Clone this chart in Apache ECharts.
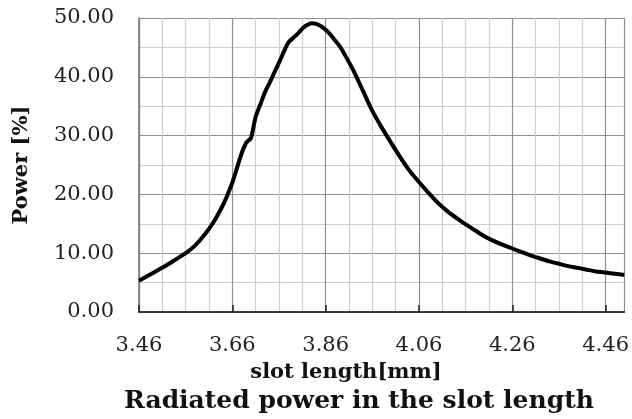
<!DOCTYPE html>
<html>
<head>
<meta charset="utf-8">
<script src="https://cdn.jsdelivr.net/npm/echarts@6/dist/echarts.min.js"></script>
<style>html,body{margin:0;padding:0;background:#fff}#c{width:632px;height:419px}</style>
</head>
<body>
<div id="c"></div>
<script>
var slotLength = [3.46,3.48,3.50,3.52,3.54,3.56,3.58,3.60,3.62,3.64,3.65,3.66,3.67,3.68,3.69,3.70,3.71,3.72,3.73,3.74,3.75,3.76,3.77,3.78,3.79,3.80,3.81,3.82,3.83,3.84,3.85,3.86,3.87,3.88,3.89,3.90,3.92,3.94,3.96,3.98,4.00,4.02,4.04,4.06,4.08,4.10,4.12,4.14,4.16,4.18,4.20,4.22,4.24,4.26,4.28,4.30,4.32,4.34,4.36,4.38,4.40,4.42,4.44,4.46,4.48,4.50];
var power = [5.3,6.2,7.1,8.0,9.0,10.0,11.3,13.1,15.3,18.2,20.0,22.0,24.5,27.0,28.8,29.6,33.2,35.3,37.4,39.0,40.7,42.4,44.2,45.8,46.6,47.3,48.2,48.8,49.1,49.0,48.6,48.0,47.2,46.2,45.2,43.9,41.0,37.6,34.2,31.4,28.8,26.3,24.0,22.1,20.3,18.6,17.2,16.0,14.9,13.9,12.9,12.1,11.4,10.8,10.2,9.6,9.1,8.6,8.2,7.8,7.5,7.2,6.9,6.7,6.5,6.3];
var xStart = 3.46, xEnd = 4.50, xStep = 0.2;
var yTicks = [0, 10, 20, 30, 40, 50];
var xAxisName = 'slot length[mm]';
var yAxisName = 'Power [%]';
var chartTitle = 'Radiated power in the slot length';

var serif = '"DejaVu Serif", "Liberation Serif", serif';
var chart = echarts.init(document.getElementById('c'));
var pts = slotLength.map(function (x, i) { return [+(x - xStart).toFixed(4), power[i]]; });
var span = +(xEnd - xStart).toFixed(4);

chart.setOption({
  animation: false,
  grid: { left: 139, right: 5, top: 18, bottom: 107 },
  xAxis: [{
    type: 'value', min: 0, max: span, interval: xStep,
    axisLine: { show: true, lineStyle: { color: '#222', width: 1.5 } },
    axisTick: { show: true, inside: true, length: 7, lineStyle: { color: '#222', width: 1.5 } },
    axisLabel: {
      margin: 23, color: '#222', fontFamily: serif, fontSize: 21,
      showMaxLabel: false,
      formatter: function (v) { return v > span - 0.01 ? '' : (v + xStart).toFixed(2); }
    },
    splitLine: { show: true, lineStyle: { color: '#8f8f8f', width: 1.2 } },
    minorTick: { show: false, splitNumber: 4 },
    minorSplitLine: { show: true, lineStyle: { color: '#cfcfcf', width: 1.2 } }
  }, {
    type: 'value', position: 'top', min: 0, max: span,
    axisLine: { show: true, lineStyle: { color: '#333', width: 1.5 } },
    axisTick: { show: false }, axisLabel: { show: false }, splitLine: { show: false }
  }],
  yAxis: [{
    type: 'value', min: yTicks[0], max: yTicks[yTicks.length - 1], interval: 10,
    name: yAxisName, nameLocation: 'middle', nameGap: 107,
    nameTextStyle: { fontFamily: serif, fontWeight: 'bold', fontSize: 21, color: '#111' },
    axisLine: { show: true, lineStyle: { color: '#8f8f8f', width: 1.2 } },
    axisTick: { show: false },
    axisLabel: { margin: 25, color: '#222', fontFamily: serif, fontSize: 21,
      formatter: function (v) { return v.toFixed(2); } },
    splitLine: { show: true, lineStyle: { color: '#8f8f8f', width: 1.2 } },
    minorTick: { show: false, splitNumber: 2 },
    minorSplitLine: { show: true, lineStyle: { color: '#cfcfcf', width: 1.2 } }
  }, {
    type: 'value', position: 'right', min: yTicks[0], max: yTicks[yTicks.length - 1],
    axisLine: { show: true, lineStyle: { color: '#777', width: 1.5 } },
    axisTick: { show: false }, axisLabel: { show: false }, splitLine: { show: false }
  }],
  graphic: [
    { type: 'text', x: 346, y: 373, style: { text: xAxisName, textAlign: 'center', textVerticalAlign: 'middle',
      font: 'bold 21px ' + serif, fill: '#111' } },
    { type: 'text', x: 359, y: 401, style: { text: chartTitle, textAlign: 'center', textVerticalAlign: 'middle',
      font: 'bold 25px ' + serif, fill: '#111' } }
  ],
  series: [{
    type: 'line', data: pts, xAxisIndex: 0, yAxisIndex: 0,
    showSymbol: false, smooth: 0.2,
    lineStyle: { color: '#000', width: 4 }
  }]
});
</script>
</body>
</html>
